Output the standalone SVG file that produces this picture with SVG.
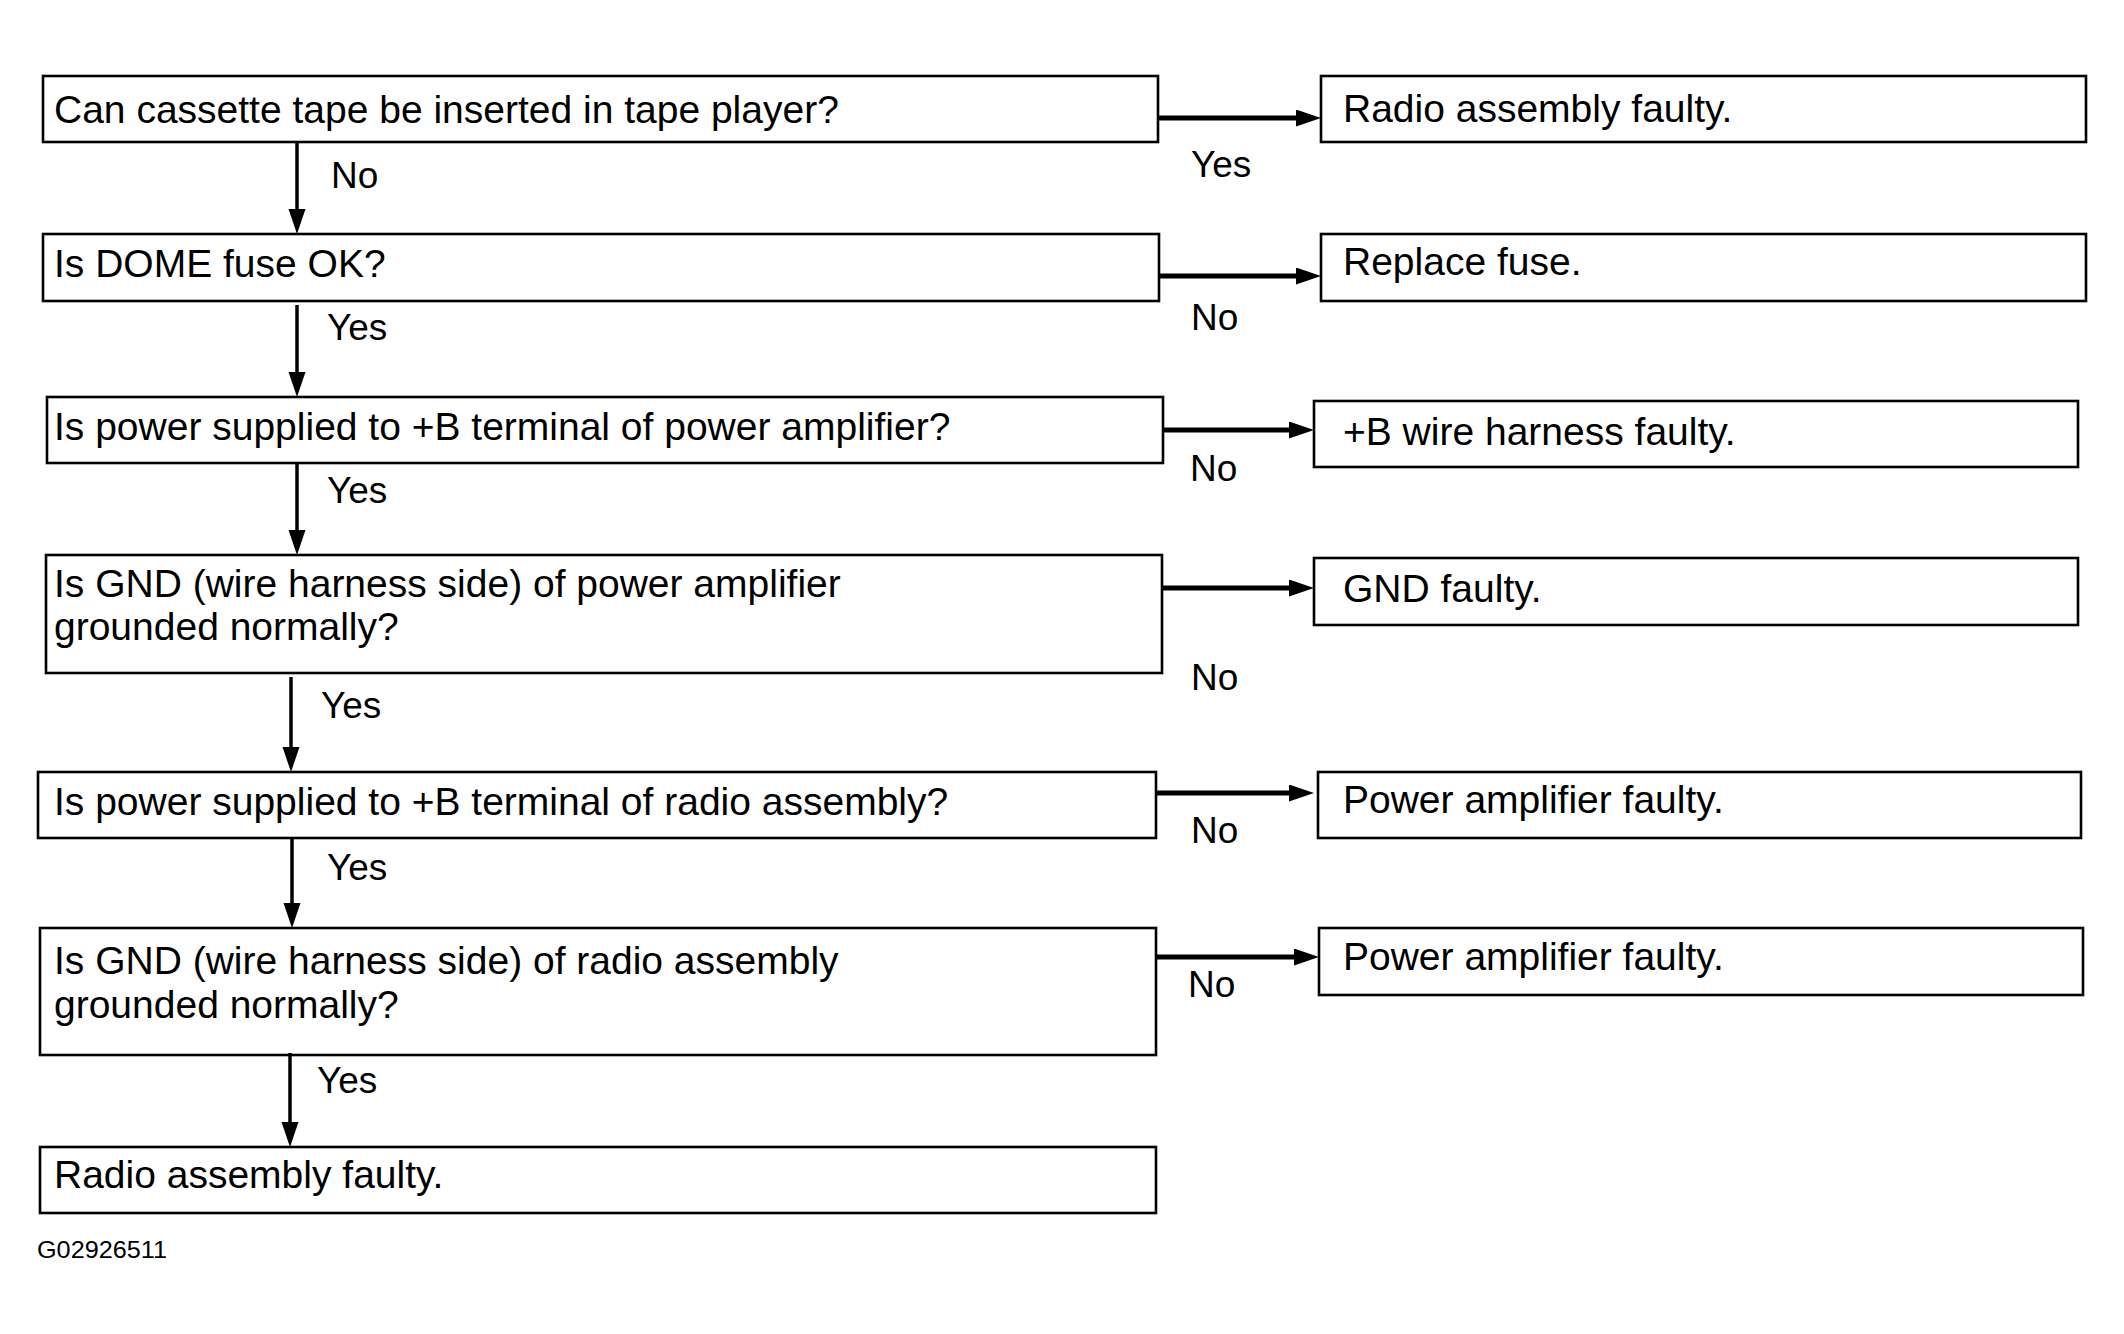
<svg xmlns="http://www.w3.org/2000/svg" width="2124" height="1334" viewBox="0 0 2124 1334">
<style>
.box{fill:#fff;stroke:#000;stroke-width:2.6}
.t{font-family:"Liberation Sans",Arial,sans-serif;font-size:39px;fill:#000}
.l{font-family:"Liberation Sans",Arial,sans-serif;font-size:37px;fill:#000}
.h{stroke:#000;stroke-width:5;fill:none}
.v{stroke:#000;stroke-width:3.5;fill:none}
.code{font-family:"Liberation Sans",Arial,sans-serif;font-size:24px;fill:#000}
</style>
<defs>
<marker id="ah" markerUnits="userSpaceOnUse" markerWidth="26" markerHeight="18" refX="13" refY="8.5" orient="auto" viewBox="0 0 26 18">
<path d="M0,0 L25,8.5 L0,17 z" fill="#000"/>
</marker>
</defs>
<rect width="2124" height="1334" fill="#fff"/>
<g id="q1"><rect class="box" x="43" y="76" width="1115" height="66"/><text class="t" x="54" y="123">Can cassette tape be inserted in tape player?</text></g>
<g id="q2"><rect class="box" x="43" y="234" width="1116" height="67"/><text class="t" x="54" y="277">Is DOME fuse OK?</text></g>
<g id="q3"><rect class="box" x="47" y="397" width="1116" height="66"/><text class="t" x="54" y="440">Is power supplied to +B terminal of power amplifier?</text></g>
<g id="q4"><rect class="box" x="46" y="555" width="1116" height="118"/><text class="t" x="54" y="597">Is GND (wire harness side) of power amplifier</text><text class="t" x="54" y="640">grounded normally?</text></g>
<g id="q5"><rect class="box" x="38" y="772" width="1118" height="66"/><text class="t" x="54" y="815">Is power supplied to +B terminal of radio assembly?</text></g>
<g id="q6"><rect class="box" x="40" y="928" width="1116" height="127"/><text class="t" x="54" y="974">Is GND (wire harness side) of radio assembly</text><text class="t" x="54" y="1018">grounded normally?</text></g>
<g id="q7"><rect class="box" x="40" y="1147" width="1116" height="66"/><text class="t" x="54" y="1188">Radio assembly faulty.</text></g>
<g id="r1"><rect class="box" x="1321" y="76" width="765" height="66"/><text class="t" x="1343" y="122">Radio assembly faulty.</text></g>
<g id="r2"><rect class="box" x="1321" y="234" width="765" height="67"/><text class="t" x="1343" y="275">Replace fuse.</text></g>
<g id="r3"><rect class="box" x="1314" y="401" width="764" height="66"/><text class="t" x="1343" y="445">+B wire harness faulty.</text></g>
<g id="r4"><rect class="box" x="1314" y="558" width="764" height="67"/><text class="t" x="1343" y="602">GND faulty.</text></g>
<g id="r5"><rect class="box" x="1318" y="772" width="763" height="66"/><text class="t" x="1343" y="813">Power amplifier faulty.</text></g>
<g id="r6"><rect class="box" x="1319" y="928" width="764" height="67"/><text class="t" x="1343" y="970">Power amplifier faulty.</text></g>
<g id="connectors">
<line class="h" x1="1158" y1="118" x2="1309" y2="118" marker-end="url(#ah)"/>
<line class="h" x1="1159" y1="276" x2="1309" y2="276" marker-end="url(#ah)"/>
<line class="h" x1="1163" y1="430" x2="1302" y2="430" marker-end="url(#ah)"/>
<line class="h" x1="1162" y1="588" x2="1302" y2="588" marker-end="url(#ah)"/>
<line class="h" x1="1156" y1="793" x2="1302" y2="793" marker-end="url(#ah)"/>
<line class="h" x1="1156" y1="957" x2="1307" y2="957" marker-end="url(#ah)"/>
<line class="v" x1="297" y1="142" x2="297" y2="222" marker-end="url(#ah)"/>
<line class="v" x1="297" y1="305" x2="297" y2="385" marker-end="url(#ah)"/>
<line class="v" x1="297" y1="463" x2="297" y2="543" marker-end="url(#ah)"/>
<line class="v" x1="291" y1="677" x2="291" y2="760" marker-end="url(#ah)"/>
<line class="v" x1="292" y1="838" x2="292" y2="916" marker-end="url(#ah)"/>
<line class="v" x1="290" y1="1053" x2="290" y2="1135" marker-end="url(#ah)"/>
<text class="l" x="331" y="188">No</text>
<text class="l" x="1191" y="177">Yes</text>
<text class="l" x="327" y="340">Yes</text>
<text class="l" x="1191" y="330">No</text>
<text class="l" x="327" y="503">Yes</text>
<text class="l" x="1190" y="481">No</text>
<text class="l" x="321" y="718">Yes</text>
<text class="l" x="1191" y="690">No</text>
<text class="l" x="327" y="880">Yes</text>
<text class="l" x="1191" y="843">No</text>
<text class="l" x="317" y="1093">Yes</text>
<text class="l" x="1188" y="997">No</text>
</g>
<text class="code" x="37" y="1258" textLength="130" lengthAdjust="spacingAndGlyphs">G02926511</text>
</svg>
